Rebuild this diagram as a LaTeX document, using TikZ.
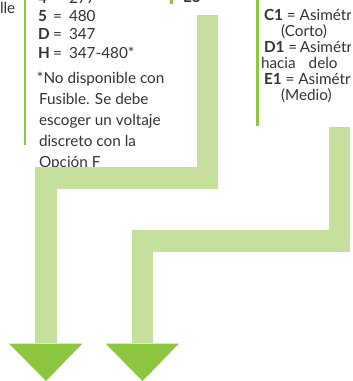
\documentclass[tikz,border=0pt]{standalone}
\usepackage{fontspec}
\setmainfont{Lato}
\definecolor{barg}{HTML}{C5E09D}
\definecolor{tipg}{HTML}{8DC63F}
\definecolor{lineg}{HTML}{8DC63F}
\definecolor{txt}{HTML}{333333}
\begin{document}
\begin{tikzpicture}[x=1pt,y=-1pt,
  txtn/.style={anchor=base west,inner sep=0pt,outer sep=0pt,text=txt,font=\fontsize{15.3}{18}\selectfont},
  bar/.style={draw=barg,line width=21.5pt},
  tiptri/.style={fill=tipg},
  rule/.style={fill=lineg}]
\useasboundingbox (0,0) rectangle (353,381);
\begin{scope}
\clip (0,0) rectangle (350,381);
% thin rules
\fill[rule] (23.5,-1) rectangle (26,145);
\fill[rule] (170,-1) rectangle (172.5,4);
\fill[rule] (256,-1) rectangle (258.5,126);
% left column
\node[txtn] (lle) at (0,13) {lle};
\node[txtn] (k4) at (38,3) {\textbf{4}};
\node[txtn] (e4) at (53,3) {=};
\node[txtn] (v4) at (69,3) {277};
\node[txtn] (k5) at (38,21.5) {\textbf{5}};
\node[txtn] (e5) at (53,21.5) {=};
\node[txtn] (v5) at (69,21.5) {480};
\node[txtn] (kd) at (38,39.5) {\textbf{D}};
\node[txtn] (ed) at (53,39.5) {=};
\node[txtn] (vd) at (69,39.5) {347};
\node[txtn] (kh) at (38,58) {\textbf{H}};
\node[txtn] (eh) at (53,58) {=};
\node[txtn] (vh) at (69,58) {347-480*};
\node[txtn] (n1) at (37,83) {*No disponible con};
\node[txtn] (n2) at (39,104) {Fusible. Se debe};
\node[txtn] (n3) at (39,125) {escoger un voltaje};
\node[txtn] (n4) at (39,146) {discreto con la};
\node[txtn] (n5) at (39,167) {Opción F};
% middle top
\node[txtn] (e3) at (183,2.5) {\textbf{E3}};
% right column
\node[txtn] (c1) at (264,20) {\textbf{C1} = Asimétr};
\node[txtn] (c1b) at (281,36) {(Corto)};
\node[txtn] (d1) at (264,52) {\textbf{D1} =\,Asimétr};
\node[txtn] (d1b) at (261,68) {hacia\hspace{13pt}delo};
\node[txtn] (f1) at (264,84) {\textbf{E1} = Asimétr};
\node[txtn] (f1b) at (281,100) {(Medio)};
% arrows
\coordinate (a1) at (207.5,15);
\coordinate (a3) at (46,178);
\coordinate (a4) at (46,342.5);
\draw[bar] (a1) |- (a3) -- (a4);
\coordinate (b1) at (339.5,127);
\coordinate (b3) at (142.5,241);
\coordinate (b4) at (142.5,342.5);
\draw[bar] (b1) |- (b3) -- (b4);
\coordinate (ta1) at (9,343.5);
\coordinate (ta2) at (82.5,343.5);
\coordinate (ta3) at (46,381);
\fill[tiptri] (ta1) -- (ta2) -- (ta3) -- cycle;
\coordinate (tb1) at (105.5,343.5);
\coordinate (tb2) at (179,343.5);
\coordinate (tb3) at (142.5,381);
\fill[tiptri] (tb1) -- (tb2) -- (tb3) -- cycle;
\end{scope}
\end{tikzpicture}
\end{document}
